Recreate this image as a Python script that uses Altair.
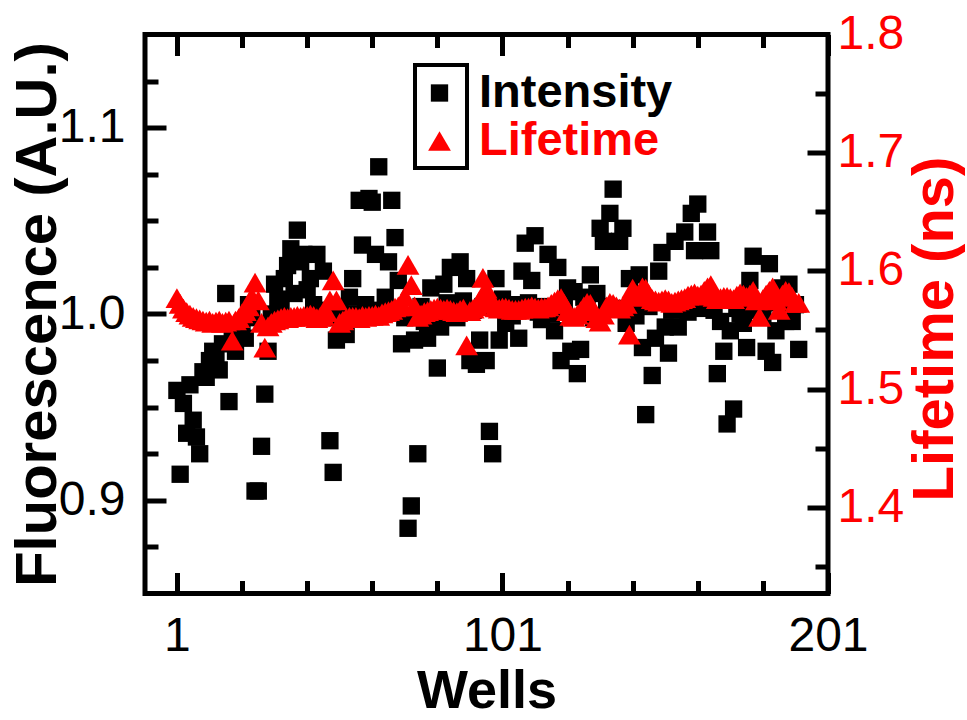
import altair as alt
import pandas as pd

wells = list(range(1, 193))
intensity = [
    0.959, 0.914, 0.952, 0.936, 0.962, 0.943, 0.934, 0.925, 0.969, 0.966,
    0.975, 0.980, 0.976, 0.970, 0.984, 1.011, 0.953, 0.990, 0.980, 0.993,
    0.995, 0.987, 1.005, 0.998, 0.905, 0.905, 0.929, 0.957, 0.980, 1.000,
    1.016, 1.008, 1.004, 1.019, 1.026, 1.035, 1.011, 1.045, 1.028, 1.032,
    1.013, 1.019, 1.005, 1.032, 1.002, 1.023, 0.998, 0.932, 0.915, 0.986,
    1.003, 0.997, 0.989, 1.009, 1.019, 1.000, 1.061, 1.037, 1.005, 1.062,
    1.060, 1.032, 1.079, 1.002, 1.009, 1.028, 1.061, 1.041, 1.018, 0.984,
    0.998, 0.885, 0.897, 0.986, 0.925, 1.004, 0.996, 0.987, 1.014, 1.001,
    0.971, 0.993, 1.016, 1.006, 1.025, 1.003, 0.998, 1.028, 1.007, 1.019,
    0.975, 1.002, 0.973, 0.986, 1.004, 0.975, 0.937, 0.925, 1.019, 0.986,
    1.008, 0.995, 1.003, 0.999, 1.005, 0.987, 1.023, 1.038, 1.006, 1.018,
    1.042, 1.001, 0.997, 1.004, 1.032, 1.000, 0.991, 1.025, 0.975, 1.003,
    1.014, 0.980, 1.012, 0.968, 0.981, 1.009, 1.002, 1.021, 0.998, 1.011,
    1.046, 1.039, 1.004, 1.054, 1.067, 1.003, 1.039, 1.046, 0.995, 1.019,
    1.002, 0.999, 1.021, 0.982, 0.946, 1.004, 0.967, 0.987, 1.023, 1.033,
    0.993, 0.979, 1.002, 1.039, 0.993, 1.005, 1.044, 1.001, 1.054, 1.034,
    1.059, 1.003, 1.006, 1.044, 1.034, 1.002, 0.968, 0.996, 0.980, 0.941,
    0.991, 0.949, 1.003, 1.000, 0.995, 0.982, 1.018, 1.031, 1.004, 1.002,
    0.999, 0.980, 1.027, 0.974, 0.991, 1.006, 1.014, 0.996, 1.016, 0.996,
    1.005, 0.981,
]
lifetime = [
    1.577, 1.572, 1.568, 1.565, 1.563, 1.561, 1.560, 1.559, 1.558, 1.557,
    1.558, 1.556, 1.557, 1.558, 1.556, 1.557, 1.558, 1.541, 1.558, 1.560,
    1.564, 1.566, 1.570, 1.578, 1.590, 1.575, 1.556, 1.535, 1.553, 1.556,
    1.558, 1.559, 1.560, 1.561, 1.560, 1.561, 1.561, 1.562, 1.561, 1.562,
    1.562, 1.563, 1.562, 1.560, 1.561, 1.562, 1.565, 1.575, 1.592, 1.575,
    1.556, 1.558, 1.560, 1.561, 1.561, 1.561, 1.560, 1.562, 1.561, 1.562,
    1.562, 1.563, 1.562, 1.564, 1.565, 1.566, 1.567, 1.569, 1.570, 1.572,
    1.578, 1.605, 1.588, 1.570, 1.561, 1.563, 1.565, 1.566, 1.567, 1.568,
    1.569, 1.568, 1.567, 1.568, 1.567, 1.566, 1.565, 1.567, 1.568, 1.537,
    1.566, 1.568, 1.570, 1.575, 1.594, 1.585, 1.578, 1.572, 1.569, 1.568,
    1.569, 1.569, 1.568, 1.567, 1.567, 1.567, 1.568, 1.569, 1.569, 1.570,
    1.569, 1.568, 1.569, 1.569, 1.570, 1.572, 1.574, 1.576, 1.577, 1.572,
    1.566, 1.562, 1.561, 1.563, 1.566, 1.570, 1.573, 1.572, 1.566, 1.560,
    1.557, 1.563, 1.570, 1.573, 1.572, 1.570, 1.568, 1.570, 1.572, 1.546,
    1.585, 1.580, 1.578, 1.586, 1.585, 1.580, 1.576, 1.575, 1.574, 1.575,
    1.576, 1.575, 1.573, 1.574, 1.575, 1.576, 1.577, 1.579, 1.580, 1.581,
    1.579, 1.580, 1.583, 1.586, 1.588, 1.578, 1.576, 1.577, 1.578, 1.578,
    1.577, 1.576, 1.579, 1.581, 1.580, 1.578, 1.580, 1.583, 1.575, 1.561,
    1.576, 1.580, 1.583, 1.586, 1.575, 1.567, 1.580, 1.583, 1.582, 1.578,
    1.573, 1.573,
]

series = ["Intensity", "Lifetime"]
x_major = [1, 101, 201]
x_minor = [21, 41, 61, 81, 121, 141, 161, 181]
left_major = [0.9, 1.0, 1.1]
left_minor = [0.875, 0.925, 0.95, 0.975, 1.025, 1.05, 1.075, 1.125]
right_major = [1.4, 1.5, 1.6, 1.7]
right_minor = [1.35, 1.45, 1.55, 1.65, 1.75]
right_labels = [1.4, 1.5, 1.6, 1.7, 1.8]

FONT = "Liberation Sans"
RED = "#ff0000"
W, H = 683, 559

df = pd.DataFrame({"Well": wells, "Intensity": intensity, "Lifetime": lifetime})

xscale = alt.Scale(domain=[-8.8, 201], nice=False, zero=False)
ylscale = alt.Scale(domain=[0.85, 1.15], nice=False, zero=False)
yrscale = alt.Scale(domain=[1.327, 1.8], nice=False, zero=False)

x_axis = alt.Axis(orient="bottom", values=x_major, format="d", ticks=False, tickSize=0,
                  domain=False, grid=False, labelFont=FONT, labelFontSize=48,
                  labelColor="black", labelPadding=19, labelFlush=False, title="Wells",
                  titleFont=FONT, titleFontSize=54, titleFontWeight="bold",
                  titleColor="black", titleBaseline="alphabetic", titlePadding=47)
left_axis = alt.Axis(orient="left", values=left_major, format=".1f", ticks=False, tickSize=0,
                     domain=False, grid=False, labelFont=FONT, labelFontSize=48,
                     labelColor="black", labelPadding=20, title="Fluorescence (A.U.)",
                     titleFont=FONT, titleFontSize=58, titleFontWeight="bold",
                     titleColor="black", titleBaseline="alphabetic", titlePadding=3)
right_axis = alt.Axis(orient="right", values=right_labels, format=".1f", ticks=False,
                      tickSize=0, domain=False, grid=False, labelFont=FONT, labelFontSize=48,
                      labelColor=RED, labelPadding=9, title="Lifetime (ns)", titleFont=FONT,
                      titleFontSize=58, titleFontWeight="bold", titleColor=RED,
                      titleAngle=-90, titleBaseline="alphabetic", titlePadding=49,
                      titleY=294)


def inward_axis(orient, offset, major, minor):
    test = "indexof([" + ",".join(str(v) for v in major) + "], datum.value) >= 0"
    return alt.Axis(orient=orient, offset=offset, values=major + minor, labels=False,
                    domain=False, grid=False, title=None, ticks=True, tickColor="black",
                    tickWidth=5,
                    tickSize={"condition": {"test": test, "value": 21}, "value": 13})


legend = alt.Legend(orient="none", legendX=271, legendY=35, title=None, padding=0,
                    labelFont=FONT, labelFontSize=47, labelFontWeight="bold",
                    labelColor={"expr": "datum.label == 'Lifetime' ? '#ff0000' : '#000000'"},
                    labelOffset=16, labelLimit=400, rowPadding=0, symbolStrokeWidth=0,
                    symbolOpacity=1)

color = alt.Color("series:N", scale=alt.Scale(domain=series, range=["#000000", RED]), legend=legend)
shape = alt.Shape("series:N", scale=alt.Scale(domain=series, range=["square", "triangle-up"]), legend=legend)
size = alt.Size("series:N", scale=alt.Scale(domain=series, range=[300, 520]), legend=legend)

pts_int = alt.Chart(df).transform_calculate(series="'Intensity'").mark_point(
    filled=True, opacity=1, strokeWidth=0).encode(
    x=alt.X("Well:Q", scale=xscale, axis=x_axis),
    y=alt.Y("Intensity:Q", scale=ylscale, axis=left_axis),
    color=color, shape=shape, size=size)

pts_life = alt.Chart(df).transform_calculate(series="'Lifetime'").mark_point(
    filled=True, opacity=1, strokeWidth=0).encode(
    x=alt.X("Well:Q", scale=xscale, axis=None),
    y=alt.Y("Lifetime:Q", scale=yrscale, axis=right_axis),
    color=color, shape=shape, size=size)


def carrier_y(vals, scale, axis):
    return alt.Chart(pd.DataFrame({"t": vals})).mark_point(opacity=0, size=1).encode(
        y=alt.Y("t:Q", scale=scale, axis=axis))


def carrier_x(vals, axis):
    return alt.Chart(pd.DataFrame({"t": vals})).mark_point(opacity=0, size=1).encode(
        x=alt.X("t:Q", scale=xscale, axis=axis))


left_group = alt.layer(
    pts_int,
    carrier_y(left_major + left_minor, ylscale, inward_axis("right", -W, left_major, left_minor)),
    carrier_x(x_major + x_minor, inward_axis("top", -H, x_major, x_minor)),
    carrier_x(x_major + x_minor, inward_axis("bottom", -H, x_major, x_minor)),
)
right_group = alt.layer(
    pts_life,
    carrier_y(right_major + right_minor, yrscale, inward_axis("left", -W, right_major, right_minor)),
)

box = alt.Chart(pd.DataFrame({"b": [0]})).mark_rect(
    fillOpacity=0, stroke="black", strokeWidth=4).encode(
    x=alt.value(270), x2=alt.value(322), y=alt.value(30.5), y2=alt.value(133.5))

chart = alt.layer(left_group, right_group, box).resolve_scale(y="independent").properties(
    width=W, height=H,
    autosize=alt.AutoSizeParams(type="none"),
    padding={"left": 145, "top": 34.5, "right": 139, "bottom": 126.5},
    background="white",
).configure_view(stroke="black", strokeWidth=5)

chart.save("out.html", embed_options={"renderer": "svg", "actions": False})
